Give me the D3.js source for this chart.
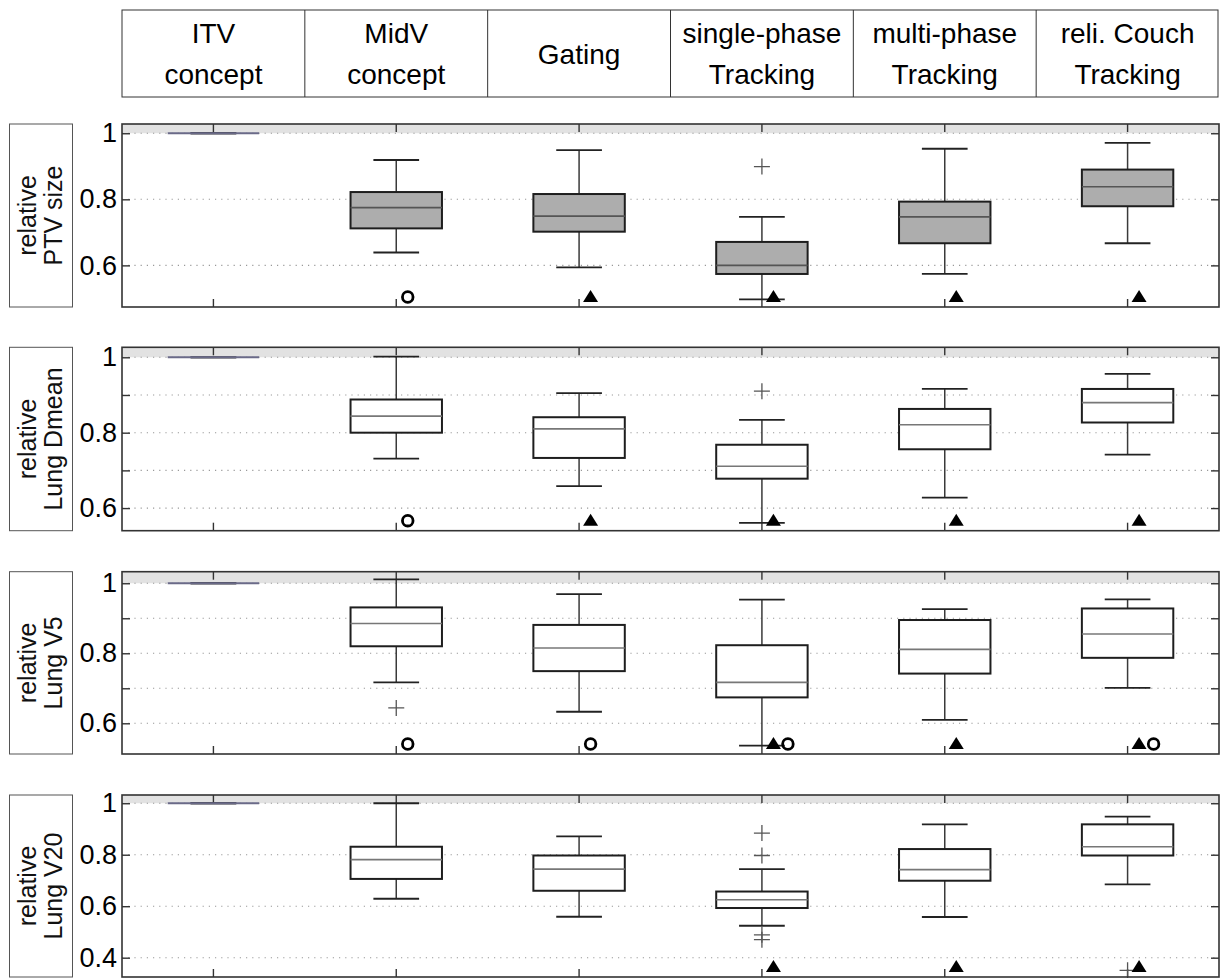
<!DOCTYPE html>
<html>
<head>
<meta charset="utf-8">
<script src="https://cdn.jsdelivr.net/npm/d3@7"></script>
<style>
  html, body { margin: 0; padding: 0; background: #fff; }
  svg { display: block; font-family: "Liberation Sans", Arial, sans-serif; }
</style>
</head>
<body>
<svg id="chart" width="1220" height="978"></svg>
<script>
// Motion-management concepts (column headers)
const concepts = [
  ["ITV", "concept"],
  ["MidV", "concept"],
  ["Gating"],
  ["single-phase", "Tracking"],
  ["multi-phase", "Tracking"],
  ["reli. Couch", "Tracking"]
];

// Box statistics per concept: [lower whisker, q1, median, q3, upper whisker]
const ptvSize = [
  [1, 1, 1, 1, 1],
  [0.639, 0.712, 0.775, 0.822, 0.919],
  [0.594, 0.702, 0.749, 0.816, 0.949],
  [0.497, 0.574, 0.600, 0.671, 0.747],
  [0.574, 0.667, 0.747, 0.793, 0.953],
  [0.667, 0.779, 0.838, 0.890, 0.971]
];
const ptvOutliers = [[], [], [], [0.899], [], []];
const ptvSymbols = [[], ["circle"], ["triangle"], ["triangle"], ["triangle"], ["triangle"]];

const lungDmean = [
  [1, 1, 1, 1, 1],
  [0.731, 0.800, 0.844, 0.888, 1.002],
  [0.658, 0.733, 0.810, 0.841, 0.905],
  [0.561, 0.678, 0.711, 0.768, 0.834],
  [0.628, 0.756, 0.821, 0.863, 0.916],
  [0.742, 0.827, 0.880, 0.916, 0.956]
];
const dmeanOutliers = [[], [], [], [0.910], [], []];
const dmeanSymbols = [[], ["circle"], ["triangle"], ["triangle"], ["triangle"], ["triangle"]];

const lungV5 = [
  [1, 1, 1, 1, 1],
  [0.717, 0.820, 0.885, 0.931, 1.011],
  [0.633, 0.749, 0.815, 0.881, 0.969],
  [0.536, 0.674, 0.717, 0.823, 0.953],
  [0.610, 0.742, 0.811, 0.895, 0.926],
  [0.701, 0.787, 0.855, 0.928, 0.954]
];
const v5Outliers = [[], [0.644], [], [], [], []];
const v5Symbols = [[], ["circle"], ["circle"], ["triangle", "circle"], ["triangle"], ["triangle", "circle"]];

const lungV20 = [
  [1, 1, 1, 1, 1],
  [0.629, 0.706, 0.781, 0.831, 1.000],
  [0.559, 0.660, 0.744, 0.797, 0.871],
  [0.524, 0.593, 0.625, 0.657, 0.744],
  [0.558, 0.699, 0.742, 0.822, 0.918],
  [0.685, 0.797, 0.831, 0.918, 0.948]
];
const v20Outliers = [[], [], [], [0.884, 0.797, 0.489, 0.470], [], [0.351]];
const v20Symbols = [[], [], [], ["triangle"], ["triangle"], ["triangle"]];

// Panel descriptions
const panelLabels = [["relative", "PTV size"], ["relative", "Lung Dmean"], ["relative", "Lung V5"], ["relative", "Lung V20"]];
const panelDomains = [[0.474, 1.028], [0.540, 1.0265], [0.5123, 1.033], [0.325, 1.032]];
const panelTicks = [[0.6, 0.8, 1], [0.6, 0.7, 0.8, 0.9, 1], [0.6, 0.7, 0.8, 0.9, 1], [0.4, 0.6, 0.8, 1]];
const panelTickLabels = [[0.6, 0.8, 1], [0.6, 0.8, 1], [0.6, 0.8, 1], [0.4, 0.6, 0.8, 1]];

const panels = [
  { stats: ptvSize, outliers: ptvOutliers, symbols: ptvSymbols, fill: "#adadad", median: "#555" },
  { stats: lungDmean, outliers: dmeanOutliers, symbols: dmeanSymbols, fill: "#fff", median: "#777" },
  { stats: lungV5, outliers: v5Outliers, symbols: v5Symbols, fill: "#fff", median: "#777" },
  { stats: lungV20, outliers: v20Outliers, symbols: v20Symbols, fill: "#fff", median: "#777" }
];

const svg = d3.select("#chart");
const plotLeft = 122, plotRight = 1219;
const panelTops = [124, 347.3, 571.7, 795];
const panelHeights = [183, 183.4, 182.3, 182];

const x = d3.scaleBand().domain(d3.range(concepts.length)).range([plotLeft, plotRight]).padding(0);
const cx = i => x(i) + x.bandwidth() / 2;
const boxW = x.bandwidth() * 0.5;
const capW = x.bandwidth() * 0.25;

// Header table
const header = svg.append("g");
header.append("rect")
  .attr("x", plotLeft).attr("y", 10)
  .attr("width", plotRight - plotLeft - 1).attr("height", 87)
  .attr("fill", "none").attr("stroke", "#333").attr("stroke-width", 1);
header.selectAll("line.div")
  .data(d3.range(1, concepts.length))
  .join("line")
  .attr("x1", i => x(i)).attr("x2", i => x(i))
  .attr("y1", 10).attr("y2", 97)
  .attr("stroke", "#333").attr("stroke-width", 1);
concepts.forEach((lines, i) => {
  const t = header.append("text")
    .attr("x", cx(i))
    .attr("text-anchor", "middle")
    .attr("font-size", 28)
    .attr("fill", "#000");
  const centers = lines.length === 1 ? [54] : [33, 74];
  lines.forEach((s, k) => {
    t.append("tspan").attr("x", cx(i)).attr("y", centers[k])
      .attr("dominant-baseline", "central").text(s);
  });
});

panels.forEach((p, pi) => {
  const top = panelTops[pi], h = panelHeights[pi], bottom = top + h;
  const y = d3.scaleLinear().domain(panelDomains[pi]).range([bottom, top]);
  const g = svg.append("g");

  // Side label box
  g.append("rect")
    .attr("x", 9.5).attr("y", top).attr("width", 63).attr("height", h)
    .attr("fill", "#fff").attr("stroke", "#555").attr("stroke-width", 1);
  panelLabels[pi].forEach((s, k) => {
    g.append("text")
      .attr("transform", `translate(${[27, 53][k]},${top + h / 2}) rotate(-90)`)
      .attr("text-anchor", "middle")
      .attr("dominant-baseline", "central")
      .attr("font-size", 25)
      .attr("fill", "#111")
      .text(s);
  });

  // Shaded band above 1
  g.append("rect")
    .attr("x", plotLeft).attr("y", top)
    .attr("width", plotRight - plotLeft).attr("height", y(1) - top)
    .attr("fill", "#e2e2e2");

  // Dotted grid
  g.selectAll("line.grid")
    .data(panelTicks[pi])
    .join("line")
    .attr("x1", plotLeft).attr("x2", plotRight)
    .attr("y1", d => y(d)).attr("y2", d => y(d))
    .attr("stroke", "#999").attr("stroke-width", 1.1)
    .attr("stroke-dasharray", "1.2,5");

  // Axes with inward ticks
  const labelSet = new Set(panelTickLabels[pi]);
  const fmt = d => labelSet.has(d) ? (d === 1 ? "1" : d3.format(".1f")(d)) : "";
  const left = g.append("g").attr("transform", `translate(${plotLeft},0)`)
    .call(d3.axisLeft(y).tickValues(panelTicks[pi]).tickSize(-8).tickPadding(5).tickFormat(fmt));
  const right = g.append("g").attr("transform", `translate(${plotRight},0)`)
    .call(d3.axisRight(y).tickValues(panelTicks[pi]).tickSize(-8).tickFormat(""));
  const bottomAx = g.append("g").attr("transform", `translate(0,${bottom})`)
    .call(d3.axisBottom(x).tickSize(-8).tickFormat(""));
  const topAx = g.append("g").attr("transform", `translate(0,${top})`)
    .call(d3.axisTop(x).tickSize(-8).tickFormat(""));
  [left, right, bottomAx, topAx].forEach(a => {
    a.select(".domain").remove();
    a.selectAll(".tick line").attr("stroke", "#333").attr("stroke-width", 1.4);
  });
  left.selectAll(".tick text")
    .attr("font-size", 27).attr("fill", "#000")
    .attr("font-family", "'Liberation Sans', Arial, sans-serif");

  // Boxes
  p.stats.forEach((s, i) => {
    const [lo, q1, med, q3, hi] = s;
    const c = cx(i);
    const bg = g.append("g");
    bg.append("line").attr("x1", c).attr("x2", c).attr("y1", y(hi)).attr("y2", y(q3))
      .attr("stroke", "#3a3a3a").attr("stroke-width", 1.5);
    bg.append("line").attr("x1", c).attr("x2", c).attr("y1", y(q1)).attr("y2", y(lo))
      .attr("stroke", "#3a3a3a").attr("stroke-width", 1.5);
    [lo, hi].forEach(v => {
      bg.append("line").attr("x1", c - capW / 2).attr("x2", c + capW / 2)
        .attr("y1", y(v)).attr("y2", y(v))
        .attr("stroke", "#222").attr("stroke-width", 1.8);
    });
    bg.append("rect")
      .attr("x", c - boxW / 2).attr("y", y(q3))
      .attr("width", boxW).attr("height", Math.max(0, y(q1) - y(q3)))
      .attr("fill", p.fill).attr("stroke", "#1e1e1e").attr("stroke-width", 2);
    bg.append("line").attr("x1", c - boxW / 2).attr("x2", c + boxW / 2)
      .attr("y1", y(med)).attr("y2", y(med))
      .attr("stroke", i === 0 ? "#6a6a88" : p.median).attr("stroke-width", i === 0 ? 2 : 1.7);

    // Outliers
    p.outliers[i].forEach(v => {
      bg.append("path")
        .attr("d", `M${c - 8},${y(v)}H${c + 8}M${c},${y(v) - 8}V${y(v) + 8}`)
        .attr("stroke", "#555").attr("stroke-width", 1.3).attr("fill", "none");
    });

    // Comparison symbols along the bottom edge
    const sy = bottom - 10;
    p.symbols[i].forEach((sym, k) => {
      const sx = c + 11.5 + k * 14.5;
      if (sym === "triangle") {
        bg.append("path")
          .attr("d", `M${sx},${sy - 7}L${sx + 7.5},${sy + 5}L${sx - 7.5},${sy + 5}Z`)
          .attr("fill", "#000");
      } else {
        bg.append("circle").attr("cx", sx).attr("cy", sy).attr("r", 5.3)
          .attr("fill", "none").attr("stroke", "#000").attr("stroke-width", 2.8);
      }
    });
  });

  // Frame
  g.append("rect")
    .attr("x", plotLeft).attr("y", top)
    .attr("width", plotRight - plotLeft).attr("height", h)
    .attr("fill", "none").attr("stroke", "#333").attr("stroke-width", 1.6);
});
</script>
</body>
</html>
